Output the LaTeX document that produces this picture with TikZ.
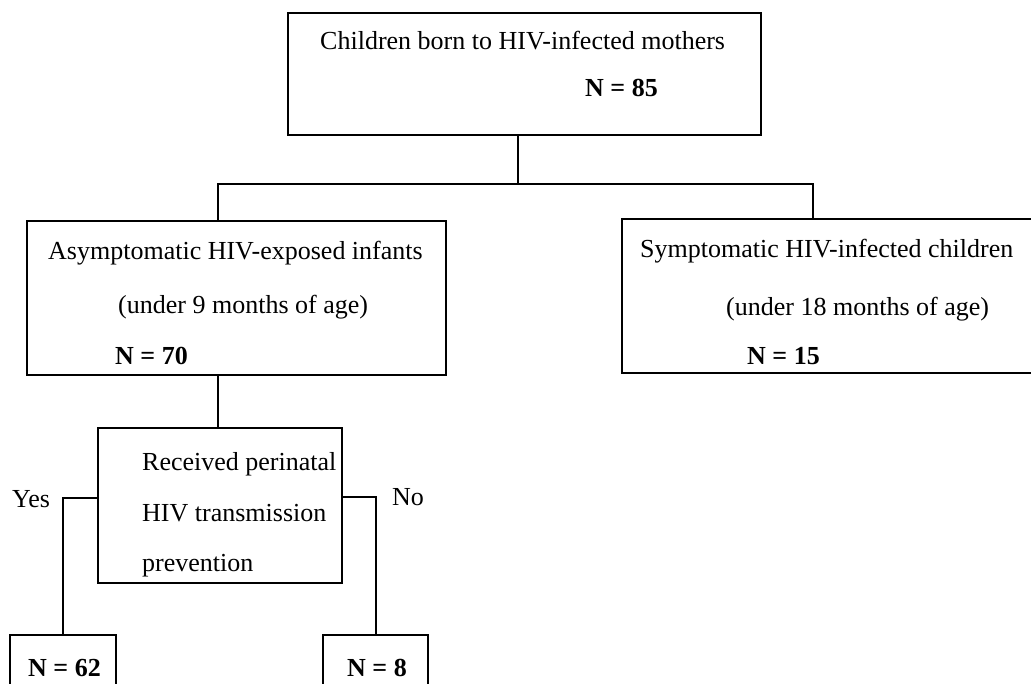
\documentclass[tikz,border=0pt]{standalone}
\usepackage{fontspec}
\setmainfont{Liberation Serif}
\usetikzlibrary{positioning,calc}
\tikzset{box/.style={draw,line width=1.6pt,inner sep=0pt},
  link/.style={line width=1.6pt},
  lbl/.style={anchor=base west,inner sep=0pt,font=\fontsize{26}{30}\selectfont},
  num/.style={lbl,font=\fontsize{26}{30}\selectfont\bfseries}}

\begin{document}
\begin{tikzpicture}[x=1pt,y=-1pt]
\useasboundingbox (0,0) rectangle (1031,684);
\clip (0,0) rectangle (1031,684);
% boxes
\node[box,minimum width=473pt,minimum height=122pt] (mothers) at (524.5,74) {};
\node[box,minimum width=419pt,minimum height=154pt] (exposed) at (236.5,298) {};
\node[box,minimum width=440pt,minimum height=154pt] (infected) at (842,296) {};
\node[box,minimum width=244pt,minimum height=155pt] (pmtct) at (220,505.5) {};
\node[box,minimum width=106pt,minimum height=90pt] (yesbox) at (63,680) {};
\node[box,minimum width=105pt,minimum height=90pt] (nobox) at (375.5,680) {};
% texts
\node[lbl] (mothersa) at (320,50) {Children born to HIV-infected mothers};
\node[num] (mothersn) at (585,97) {N = 85};
\node[lbl] (exposeda) at (48,260) {Asymptomatic HIV-exposed infants};
\node[lbl] (exposedb) at (118,314) {(under 9 months of age)};
\node[num] (exposedn) at (115,365) {N = 70};
\node[lbl] (infecteda) at (640,258) {Symptomatic HIV-infected children};
\node[lbl] (infectedb) at (726,316) {(under 18 months of age)};
\node[num] (infectedn) at (747,365) {N = 15};
\node[lbl] (pmtcta) at (142,470) {Received perinatal};
\node[lbl] (pmtctb) at (142,521) {HIV transmission};
\node[lbl] (pmtctc) at (142,571) {prevention};
\node[lbl] (yes) at (12,507) {Yes};
\node[lbl] (no) at (392,505) {No};
\node[num] (yesn) at (28,676) {N = 62};
\node[num] (non) at (347,676) {N = 8};
% connectors
\coordinate (split) at (518,184);
\coordinate (ja) at (218,184);
\coordinate (jb) at (813,184);
\coordinate (yesj) at (63,498);
\coordinate (noj) at (376,497);
\draw[link] (mothers.south -| split) -- (split);
\draw[link] (exposed.north -| ja) -- (ja) -- (jb) -- (infected.north -| jb);
\draw[link] (exposed.south -| ja) -- (pmtct.north -| ja);
\draw[link] (pmtct.west |- yesj) -- (yesj) -- (yesbox.north);
\draw[link] (pmtct.east |- noj) -- (noj) -- (nobox.north -| noj);
\end{tikzpicture}
\end{document}
